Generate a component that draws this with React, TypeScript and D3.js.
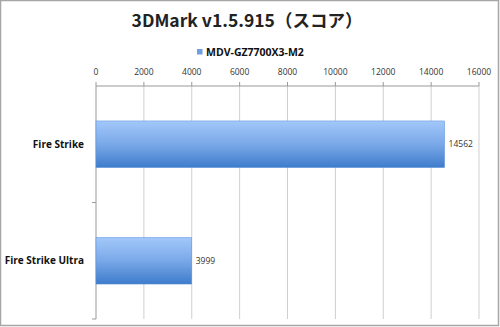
import React from "react";
import * as d3 from "d3";

const categories = ["Fire Strike", "Fire Strike Ultra"];
const values = [14562, 3999];
const seriesName = "MDV-GZ7700X3-M2";
const tickValues = [0, 2000, 4000, 6000, 8000, 10000, 12000, 14000, 16000];
const title = "3DMark v1.5.915（スコア）";

export default function App() {
  const W = 500, H = 327;
  const left = 96, right = 479, top = 86, bottom = 319;
  const x = d3.scaleLinear().domain([0, 16000]).range([left, right]);
  const y = d3.scaleBand().domain(categories).range([top, bottom]).paddingInner(0.6).paddingOuter(0.3);
  const yOuter = d3.scaleBand().domain(categories).range([top, bottom]);
  const font = "'Open Sans', 'Noto Sans', sans-serif";
  return (
    <svg width={W} height={H} style={{ position: "absolute", left: 0, top: 0, background: "#fff" }}>
      <defs>
        <linearGradient id="barg" x1="0" y1="0" x2="0" y2="1">
          <stop offset="0" stopColor="#a2c8fa" />
          <stop offset="0.5" stopColor="#7aa8e8" />
          <stop offset="1" stopColor="#3d7ccc" />
        </linearGradient>
      </defs>
      <rect x={0.5} y={0.5} width={W - 2} height={H - 2} fill="#fff" stroke="#a6a6a6" strokeWidth={1.5} />
      <text x={247} y={27} textAnchor="middle" fontFamily="'Noto Sans CJK JP', sans-serif" fontWeight="bold" fontSize={17.5} fill="#222">{title}</text>
      <rect x={197} y={49} width={5.5} height={5.5} fill="#6f9fe0" />
      <text x={206} y={55.5} fontFamily={font} fontWeight="bold" fontSize={10.5} fill="#111">{seriesName}</text>
      {tickValues.slice(1).map((t) => (
        <line key={"g" + t} x1={x(t)} x2={x(t)} y1={top} y2={bottom} stroke="#cfcfcf" strokeWidth={1} />
      ))}
      {tickValues.map((t) => (
        <g key={"t" + t}>
          <line x1={x(t)} x2={x(t)} y1={top - 4} y2={top} stroke="#999" />
          <text x={x(t)} y={75} textAnchor="middle" fontFamily={font} fontSize={8.5} fill="#333">{t}</text>
        </g>
      ))}
      <line x1={left} x2={right} y1={top} y2={top} stroke="#999" />
      <line x1={left} x2={left} y1={top} y2={bottom} stroke="#999" />
      {categories.map((c, i) => (
        <line key={"ct" + i} x1={left - 4} x2={left} y1={(yOuter(c) as number) + yOuter.bandwidth()} y2={(yOuter(c) as number) + yOuter.bandwidth()} stroke="#999" />
      ))}
      {categories.map((c, i) => {
        const yy = y(c) as number;
        return (
          <g key={c}>
            <rect x={x(0)} y={yy} width={x(values[i]) - x(0)} height={y.bandwidth()} fill="url(#barg)" stroke="#5a8fd6" strokeWidth={0.5} />
            <text x={x(values[i]) + 4} y={yy + y.bandwidth() / 2 + 3} fontFamily={font} fontSize={8.5} fill="#333">{values[i]}</text>
            <text x={84} y={yy + y.bandwidth() / 2 + 3.5} textAnchor="end" fontFamily={font} fontWeight="bold" fontSize={10} fill="#111">{c}</text>
          </g>
        );
      })}
    </svg>
  );
}
